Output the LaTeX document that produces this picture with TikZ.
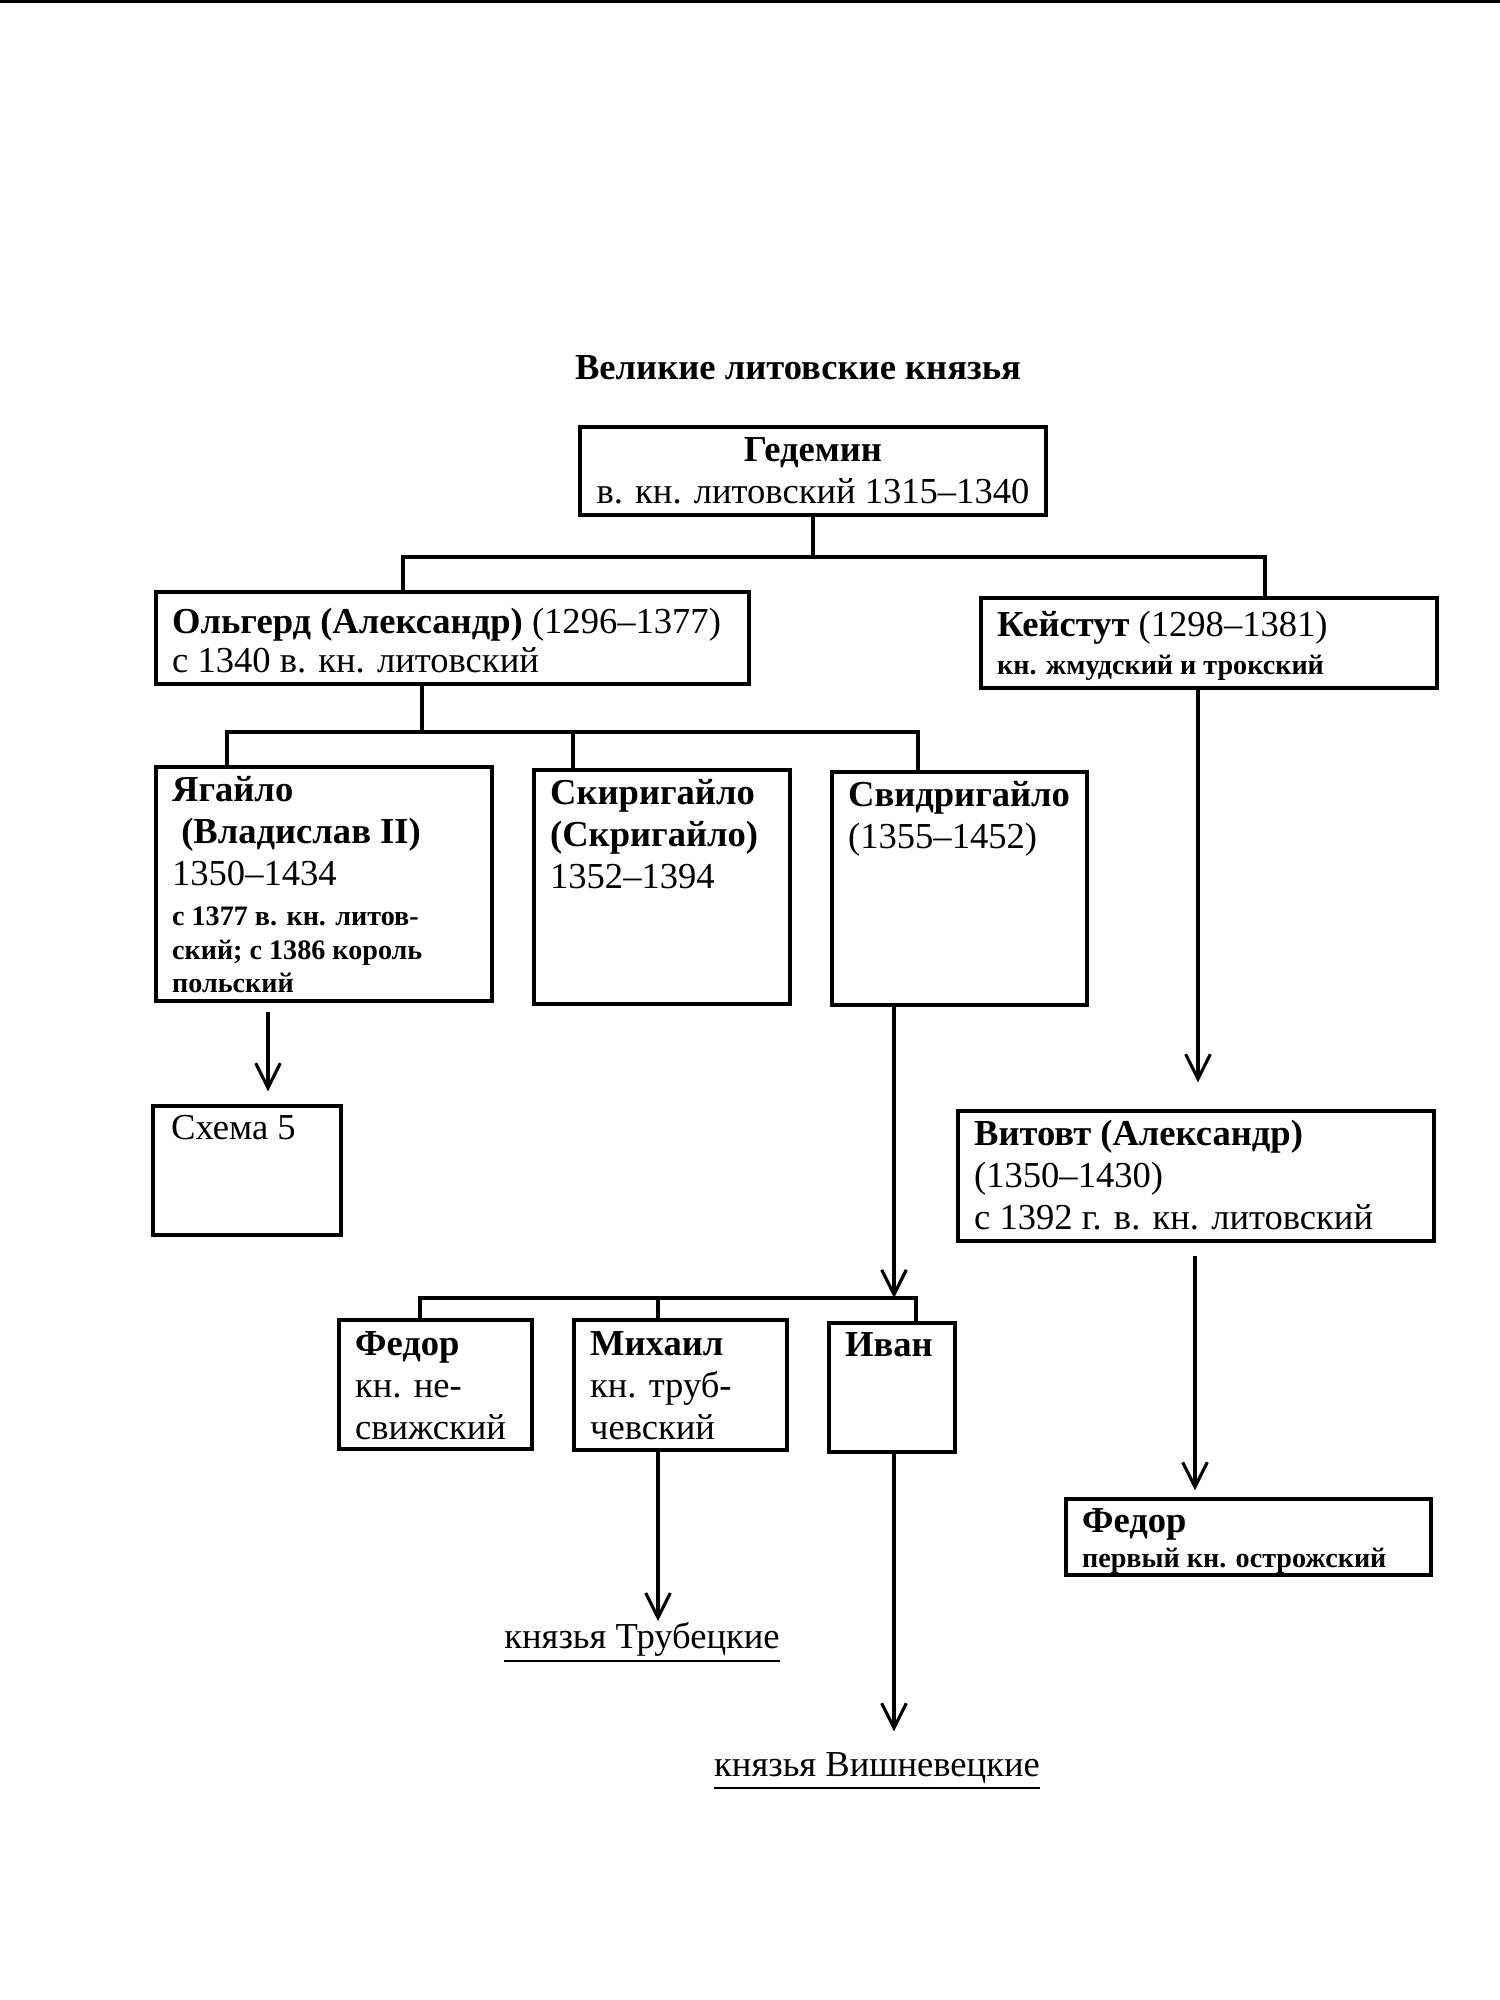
\documentclass[tikz,border=0pt]{standalone}
\usepackage{fontspec}
\setmainfont{Liberation Serif}
\usetikzlibrary{arrows.meta,fit}

\newcommand{\smb}[1]{{\fontsize{8}{9.7}\selectfont\bfseries #1}}

\tikzset{
  box/.style={draw, line width=0.9pt, inner sep=0pt},
  txt/.style={anchor=north west, inner sep=0pt, align=left, font=\fontsize{10.4}{12}\selectfont},
  lbl/.style={anchor=base, inner sep=0pt, font=\fontsize{10.4}{12}\selectfont},
  lnk/.style={line width=0.9pt},
  arr/.style={line width=0.9pt, -{Straight Barb[length=7pt,width=7pt]}},
}

\begin{document}
\begin{tikzpicture}[x=0.01cm, y=-0.01cm]
\useasboundingbox (0,0) rectangle (1500,2000);
\fill[white] (0,0) rectangle (1500,2000);
\draw[line width=0.9pt] (0,1.5) -- (1500,1.5);

% title
\node[lbl, font=\fontsize{10.4}{12}\selectfont\bfseries] (title) at (798,379) {Великие литовские князья};

% boxes
\node[box, fit={(580,427) (1046,515)}] (ged) {};
\node[box, fit={(156,592) (749,684)}] (olg) {};
\node[box, fit={(981,598) (1437,688)}] (kei) {};
\node[box, fit={(156,767) (492,1001)}] (yag) {};
\node[box, fit={(534,770) (790,1004)}] (ski) {};
\node[box, fit={(832,772) (1087,1005)}] (svi) {};
\node[box, fit={(153,1106) (341,1235)}] (sch) {};
\node[box, fit={(958,1111) (1434,1241)}] (vit) {};
\node[box, fit={(339,1320) (532,1449)}] (fed) {};
\node[box, fit={(574,1320) (787,1450)}] (mih) {};
\node[box, fit={(829,1323) (955,1452)}] (iva) {};
\node[box, fit={(1066,1499) (1431,1575)}] (ostr) {};

% texts
\node[txt, anchor=north, align=center] (gedt) at ([yshift=-0.11cm]ged.north)
  {\textbf{Гедемин}\\ в. кн. литовский 1315–1340};
\node[txt] (olgt) at ([shift={(0.17cm,-0.17cm)}]olg.north west)
  {\textbf{Ольгерд (Александр)} (1296–1377)\\[-0.9pt] с 1340 в. кн. литовский};
\node[txt] (keit) at ([shift={(0.17cm,-0.14cm)}]kei.north west)
  {\textbf{Кейстут} (1298–1381)\\[-1.2pt] \smb{кн. жмудский и трокский}};
\node[txt] (yagt) at ([shift={(0.17cm,-0.1cm)}]yag.north west)
  {\textbf{Ягайло}\\ \hspace*{0.25em}\textbf{(Владислав II)}\\ 1350–1434\\[-0.6pt]
   \smb{с 1377 в. кн. литов-}\\[-2.3pt] \smb{ский; с 1386 король}\\[-2.6pt] \smb{польский}};
\node[txt] (skit) at ([shift={(0.17cm,-0.1cm)}]ski.north west)
  {\textbf{Скиригайло}\\ \textbf{(Скригайло)}\\ 1352–1394};
\node[txt] (svit) at ([shift={(0.17cm,-0.1cm)}]svi.north west)
  {\textbf{Свидригайло}\\ (1355–1452)};
\node[txt] (scht) at ([shift={(0.19cm,-0.1cm)}]sch.north west) {Схема 5};
\node[txt] (vitt) at ([shift={(0.17cm,-0.1cm)}]vit.north west)
  {\textbf{Витовт (Александр)}\\ (1350–1430)\\ с 1392 г. в. кн. литовский};
\node[txt] (fedt) at ([shift={(0.17cm,-0.12cm)}]fed.north west)
  {\textbf{Федор}\\ кн. не-\\ свижский};
\node[txt] (miht) at ([shift={(0.17cm,-0.12cm)}]mih.north west)
  {\textbf{Михаил}\\ кн. труб-\\ чевский};
\node[txt] (ivat) at ([shift={(0.17cm,-0.1cm)}]iva.north west) {\textbf{Иван}};
\node[txt] (ostrt) at ([shift={(0.17cm,-0.1cm)}]ostr.north west)
  {\textbf{Федор}\\[-2pt] \smb{первый кн. острожский}};

\node[lbl] (trub) at (642,1648) {\underline{князья Трубецкие}};
\node[lbl] (vish) at (877,1776) {\underline{князья Вишневецкие}};

% branches
\coordinate (g1) at (403,557);
\coordinate (g2) at (1265,557);
\draw[lnk] (ged.south) -- (ged.south |- g1);
\draw[lnk] (olg.north -| g1) |- (g2) -- (kei.north -| g2);

\coordinate (o1) at (422,732);
\coordinate (o2) at (227,732);
\coordinate (o3) at (573,732);
\coordinate (o4) at (918,732);
\draw[lnk] (olg.south -| o1) -- (o1);
\draw[lnk] (yag.north -| o2) |- (o4) -- (svi.north -| o4);
\draw[lnk] (o3) -- (ski.north -| o3);

\coordinate (b1) at (420,1298);
\coordinate (b2) at (658,1298);
\coordinate (b3) at (916,1298);
\draw[lnk] (fed.north -| b1) |- (b3) -- (iva.north -| b3);
\draw[lnk] (b2) -- (mih.north -| b2);

% arrows
\coordinate (cy) at (268,0);
\coordinate (ck) at (1198,0);
\coordinate (cv) at (1195,0);
\coordinate (cs) at (894,0);
\coordinate (cm) at (658,0);
\draw[arr, shorten <=0.09cm, shorten >=0.13cm] (yag.south -| cy) -- (sch.north -| cy);
\draw[arr, shorten >=0.27cm] (kei.south -| ck) -- (vit.north -| ck);
\draw[arr, shorten <=0.13cm, shorten >=0.07cm] (vit.south -| cv) -- (ostr.north -| cv);
\draw[arr] (svi.south -| cs) -- (cs |- b1);
\draw[arr] (mih.south -| cm) -- (trub.north -| cm);
\draw[arr, shorten >=0.2cm] (iva.south -| cs) -- (vish.north -| cs);
\end{tikzpicture}
\end{document}
